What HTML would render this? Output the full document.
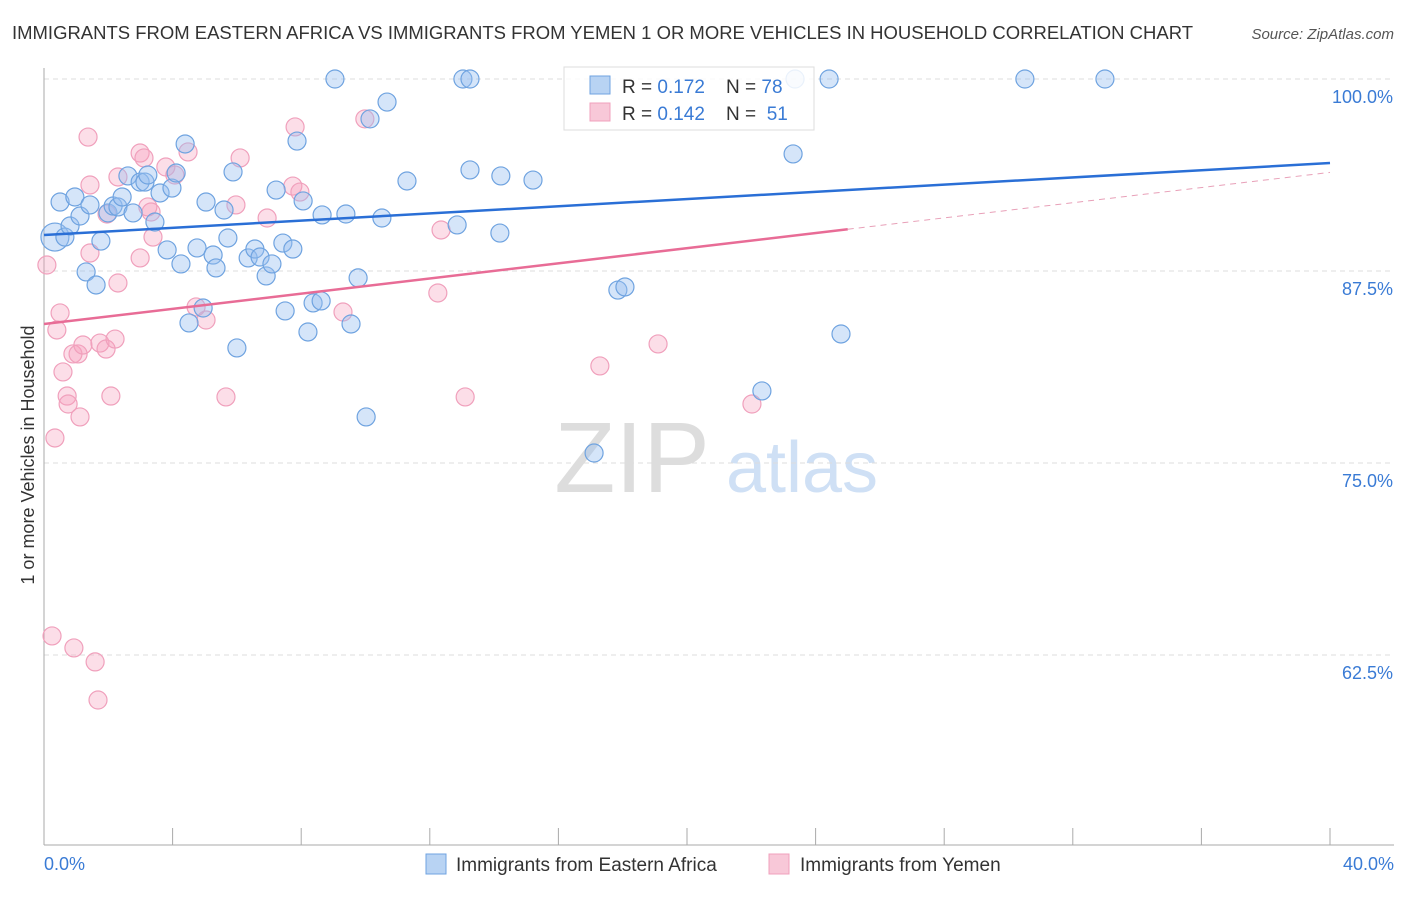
<!DOCTYPE html>
<html><head><meta charset="utf-8"><style>
body{margin:0;background:#fff;font-family:"Liberation Sans",sans-serif}
svg text{font-family:"Liberation Sans",sans-serif}
</style></head><body>
<svg id="chart" width="1406" height="892" xmlns="http://www.w3.org/2000/svg">
<text x="12" y="39" font-size="18" fill="#333" textLength="1181" lengthAdjust="spacingAndGlyphs">IMMIGRANTS FROM EASTERN AFRICA VS IMMIGRANTS FROM YEMEN 1 OR MORE VEHICLES IN HOUSEHOLD CORRELATION CHART</text>
<text x="1394" y="39" font-size="15" fill="#555" font-style="italic" text-anchor="end">Source: ZipAtlas.com</text>
<text transform="translate(34,455) rotate(-90)" font-size="18" fill="#333" text-anchor="middle">1 or more Vehicles in Household</text>
<g><text x="632" y="492" font-size="100" fill="#ddd" font-family="Liberation Serif,serif" text-anchor="middle">ZIP</text><text x="802" y="492" font-size="72" fill="#cfe0f5" text-anchor="middle">atlas</text></g>
<g id="grid"></g><g id="axes"></g><g id="pts"></g><g id="trends"></g>
<g>
<rect x="564" y="67" width="250" height="63" fill="#fff" fill-opacity="0.85" stroke="#ddd"/>
<rect x="590" y="76" width="20" height="18" fill="#b8d3f3" stroke="#6fa3e0"/>
<text x="622" y="93" font-size="19" fill="#333" xml:space="preserve">R = <tspan fill="#3a7bd5">0.172</tspan>    N = <tspan fill="#3a7bd5">78</tspan></text>
<rect x="590" y="103" width="20" height="18" fill="#f8c8d8" stroke="#f0a0bc"/>
<text x="622" y="120" font-size="19" fill="#333" xml:space="preserve">R = <tspan fill="#3a7bd5">0.142</tspan>    N =  <tspan fill="#3a7bd5">51</tspan></text>
</g>
<g>
<rect x="426" y="854" width="20" height="20" fill="#b8d3f3" stroke="#6fa3e0"/>
<text x="456" y="871" font-size="19" fill="#333">Immigrants from Eastern Africa</text>
<rect x="769" y="854" width="20" height="20" fill="#f8c8d8" stroke="#f0a0bc"/>
<text x="800" y="871" font-size="19" fill="#333">Immigrants from Yemen</text>
</g>
</svg>
<script>
const blueX=[0.34,0.5,0.65,0.81,0.96,1.12,1.31,1.43,1.62,1.77,1.99,2.15,2.3,2.43,2.61,2.77,2.99,3.14,3.23,3.45,3.61,3.83,3.98,4.11,4.26,4.39,4.51,4.76,4.95,5.04,5.26,5.35,5.6,5.72,5.88,6.0,6.35,6.56,6.72,6.91,7.09,7.22,7.43,7.5,7.74,7.87,8.06,8.21,8.37,8.62,8.65,9.05,9.39,9.55,9.77,10.02,10.14,10.51,10.67,11.29,12.85,13.03,13.25,13.25,14.18,14.21,15.21,17.11,17.85,18.07,22.33,23.3,23.36,24.42,24.79,30.51,33.0];
const blueY=[89.71,91.99,89.71,90.43,92.32,91.08,87.44,91.8,86.59,89.45,91.28,91.73,91.67,92.32,93.69,91.28,93.29,93.29,93.75,90.69,92.58,88.87,92.9,93.88,87.96,95.77,84.12,89.0,85.09,91.99,88.54,87.7,91.47,89.65,93.95,82.49,88.35,88.93,88.41,87.18,87.96,92.77,89.32,84.9,88.93,95.96,92.06,83.53,85.42,85.55,91.15,100,91.21,84.05,87.05,78.0,97.4,90.95,98.5,93.36,90.5,100,100,94.08,89.97,93.69,93.42,75.65,86.26,86.46,79.69,95.12,100,100,83.4,100,100];
const pinkX=[0.09,0.25,0.34,0.4,0.5,0.59,0.72,0.75,0.9,0.93,1.06,1.12,1.21,1.37,1.43,1.43,1.59,1.68,1.74,1.93,1.96,2.08,2.21,2.3,2.3,2.99,2.99,3.11,3.23,3.33,3.39,3.79,4.07,4.48,4.73,5.04,5.66,5.97,6.1,6.94,7.74,7.81,7.96,9.3,9.98,12.25,12.35,13.1,17.29,19.1,22.02];
const pinkY=[87.89,63.74,76.63,83.66,84.77,80.93,79.36,78.84,82.1,62.96,82.1,78.0,82.68,96.22,93.1,88.67,62.05,59.57,82.81,82.42,91.21,79.36,83.07,86.72,93.62,88.35,95.18,94.86,91.67,91.34,89.71,94.27,93.75,95.25,85.16,84.31,79.3,91.8,94.86,90.95,93.03,96.88,92.64,84.83,97.4,86.07,90.17,79.3,81.32,82.75,78.84];
const blueTrend=[89.84,94.53];
const pinkTrend=[84.05,93.92];
const pinkSolidEnd=25;
const yTicks=[100,87.5,75,62.5];
const yTickLabels=["100.0%","87.5%","75.0%","62.5%"];
const xTickLabels=["0.0%","40.0%"];
const NS="http://www.w3.org/2000/svg";
const X=v=>44+v/40*1286, Y=v=>79+(100-v)*15.36;
function mk(tag,a,p){const e=document.createElementNS(NS,tag);for(const k in a)e.setAttribute(k,a[k]);p.appendChild(e);return e;}
const grid=document.getElementById('grid'),axes=document.getElementById('axes'),pts=document.getElementById('pts'),tr=document.getElementById('trends');
yTicks.forEach((t,i)=>{
 const l=mk('line',{x1:44,x2:1394,y1:Y(t),y2:Y(t),stroke:'#ddd','stroke-dasharray':'5,4'},grid);
 
 
 const tx=mk('text',{x:1393,y:Y(t)+24,'font-size':18,fill:'#3a7bd5','text-anchor':'end'},axes);tx.textContent=yTickLabels[i];
 
 
});
mk('line',{x1:44,x2:44,y1:68,y2:845,stroke:'#aaa'},axes);
mk('line',{x1:44,x2:1394,y1:845,y2:845,stroke:'#aaa'},axes);
for(let i=0;i<=10;i++){mk('line',{x1:X(i*4),x2:X(i*4),y1:828,y2:845,stroke:'#aaa'},axes);}
const xl0=mk('text',{x:44,y:870,'font-size':18,fill:'#3a7bd5'},axes);xl0.textContent=xTickLabels[0];


const xl1=mk('text',{x:1394,y:870,'font-size':18,fill:'#3a7bd5','text-anchor':'end'},axes);xl1.textContent=xTickLabels[1];


pinkX.forEach((x,i)=>{const c=mk('circle',{cx:X(x),cy:Y(pinkY[i]),r:9,fill:'rgba(245,160,190,0.35)',stroke:'#f0a0bc','stroke-width':1.2},pts);
 
 });
blueX.forEach((x,i)=>{const c=mk('circle',{cx:X(x),cy:Y(blueY[i]),r:i==0?14:9,fill:'rgba(150,190,240,0.4)',stroke:'#6fa3e0','stroke-width':1.2},pts);
 
 });
const pv=x=>pinkTrend[0]+(pinkTrend[1]-pinkTrend[0])*x/40;
const bl=mk('line',{x1:X(0),y1:Y(blueTrend[0]),x2:X(40),y2:Y(blueTrend[1]),stroke:'#2a6fd6','stroke-width':2.5},tr);


const pl=mk('line',{x1:X(0),y1:Y(pv(0)),x2:X(pinkSolidEnd),y2:Y(pv(pinkSolidEnd)),stroke:'#e86c96','stroke-width':2.5},tr);


const pd=mk('line',{x1:X(pinkSolidEnd),y1:Y(pv(pinkSolidEnd)),x2:X(40),y2:Y(pv(40)),stroke:'#e8a0b8','stroke-width':1,'stroke-dasharray':'6,5'},tr);


</script>
</body></html>
